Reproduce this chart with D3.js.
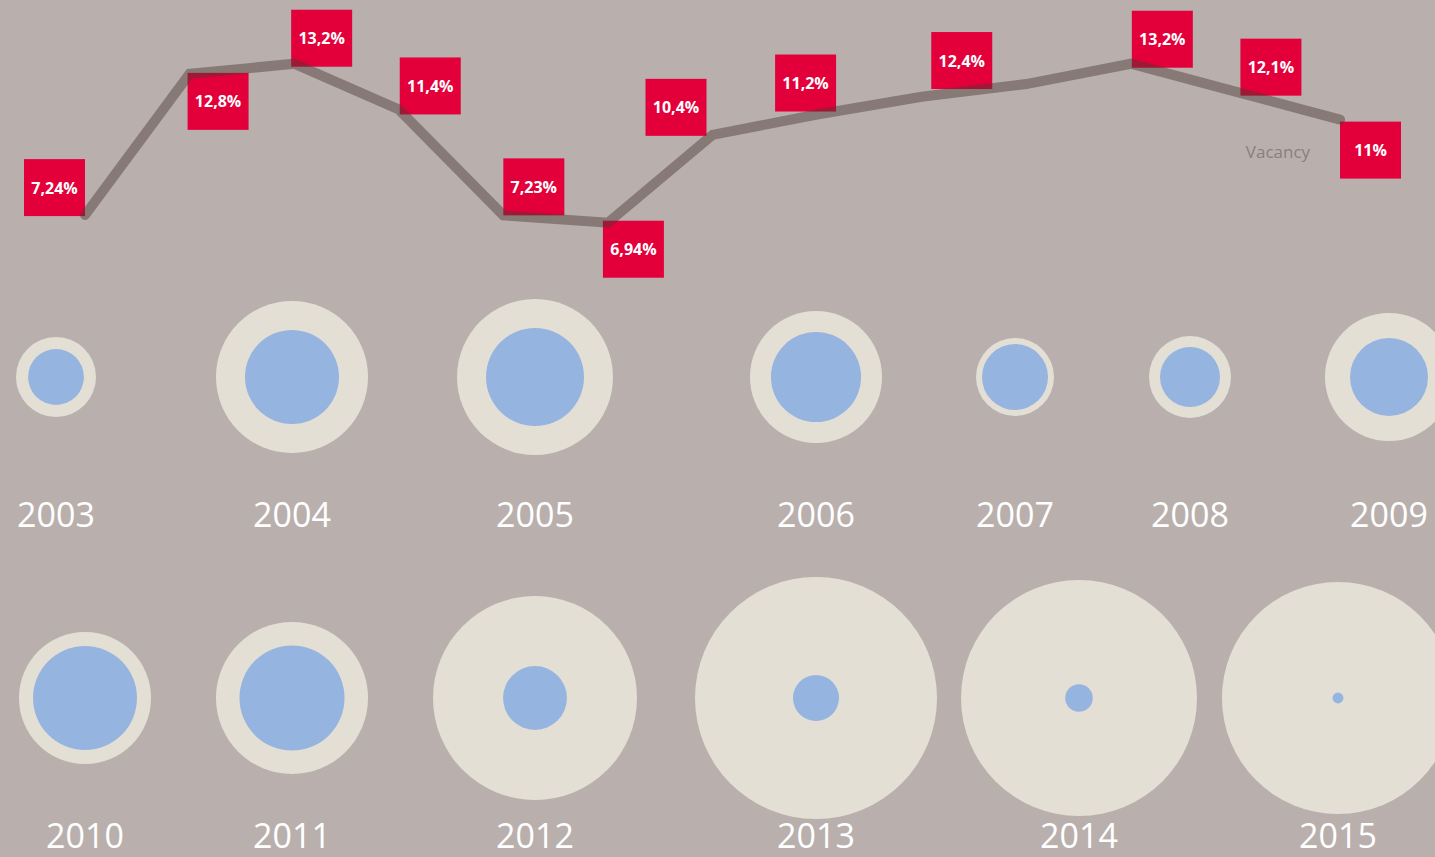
<!DOCTYPE html>
<html>
  <head>
    <meta charset="utf-8" />
    <title>Vacancy and stock 2003-2015</title>
    <script src="https://d3js.org/d3.v7.min.js"></script>
    <style>
      body { margin: 0; background: #b9b0ad; }
      svg { display: block; }
    </style>
  </head>
  <body>
    <svg width="1435" height="857"></svg>

    <script>
      // Data
      const years = [2003, 2004, 2005, 2006, 2007, 2008, 2009, 2010, 2011, 2012, 2013, 2014, 2015];
      const vacancy = [7.24, 12.8, 13.2, 11.4, 7.23, 6.94, 10.4, 11.2, 11.9, 12.4, 13.2, 12.1, 11.0];
      const vacancyLabels = ["7,24%", "12,8%", "13,2%", "11,4%", "7,23%", "6,94%", "10,4%", "11,2%", null, "12,4%", "13,2%", "12,1%", "11%"];
      // outer and inner circle values (area units)
      const outerValues = [160, 578, 608, 436, 152, 168, 410, 436, 578, 1040, 1464, 1392, 1346];
      const innerValues = [78, 221, 240, 203, 109, 90, 152, 270, 276, 102, 53, 19, 3];

      // Layout: label box offsets from the line point, circle columns
      const boxOffsets = [[-61, -56], [-2, -1], [-3, -54], [1, -52], [0, -57], [-5, -2], [-67, -56], [-42, -60], null, [-95, -52], [1, -53], [5, -53], [0, 2]];
      const rowOf = [0, 0, 0, 0, 0, 0, 0, 1, 1, 1, 1, 1, 1];
      const columnX = [56, 292, 535, 816, 1015, 1190, 1389, 85, 292, 535, 816, 1079, 1338];

      const width = 1435;
      const height = 857;
      const svg = d3.select("svg");

      svg.append("rect").attr("width", width).attr("height", height).attr("fill", "#b9b0ad");

      // ---- line chart ----
      const x = d3.scalePoint().domain(years).range([85, 1340]);
      const y = d3.scaleLinear().domain([0, 15]).range([399, 18]);

      const pts = years.map((yr, i) => ({ year: yr, v: vacancy[i], label: vacancyLabels[i], off: boxOffsets[i] }));

      const boxW = 61, boxH = 57;
      const labelled = pts.filter(d => d.label);

      const boxes = svg.append("g")
        .selectAll("g")
        .data(labelled)
        .enter()
        .append("g")
        .attr("transform", d => `translate(${x(d.year) + d.off[0]},${y(d.v) + d.off[1]})`);

      boxes.append("rect")
        .attr("width", boxW)
        .attr("height", boxH)
        .attr("fill", "#e3003a");

      boxes.append("text")
        .attr("x", boxW / 2)
        .attr("y", boxH / 2 + 6)
        .attr("text-anchor", "middle")
        .style("font-family", "'Open Sans', sans-serif")
        .style("font-weight", "700")
        .style("font-size", "16px")
        .style("fill", "#ffffff")
        .text(d => d.label);

      const line = d3.line().x(d => x(d.year)).y(d => y(d.v));

      svg.append("path")
        .datum(pts)
        .attr("d", line)
        .attr("fill", "none")
        .attr("stroke", "#4a3833")
        .attr("stroke-opacity", 0.45)
        .attr("stroke-width", 10)
        .attr("stroke-linecap", "round")
        .attr("stroke-linejoin", "miter");

      svg.append("text")
        .attr("x", 1278)
        .attr("y", 158)
        .attr("text-anchor", "middle")
        .style("font-family", "'Open Sans', sans-serif")
        .style("font-size", "17px")
        .style("fill", "#8a7f7c")
        .text("Vacancy");

      // ---- circles ----
      const r = d3.scaleSqrt().domain([0, d3.max(outerValues)]).range([0, 121]);
      const colScale = d3.scaleOrdinal().domain(years).range(columnX);
      const rowY = d3.scaleOrdinal().domain([0, 1]).range([377, 698]);
      const labelY = d3.scaleOrdinal().domain([0, 1]).range([527, 848]);

      const bubbles = years.map((yr, i) => ({ year: yr, outer: outerValues[i], inner: innerValues[i], row: rowOf[i] }));

      svg.append("g")
        .selectAll("circle")
        .data(bubbles)
        .enter()
        .append("circle")
        .attr("cx", d => colScale(d.year))
        .attr("cy", d => rowY(d.row))
        .attr("r", d => r(d.outer))
        .attr("fill", "#e3dfd5");

      svg.append("g")
        .selectAll("circle")
        .data(bubbles)
        .enter()
        .append("circle")
        .attr("cx", d => colScale(d.year))
        .attr("cy", d => rowY(d.row))
        .attr("r", d => r(d.inner))
        .attr("fill", "#96b4e0");

      svg.append("g")
        .selectAll("text")
        .data(bubbles)
        .enter()
        .append("text")
        .attr("x", d => colScale(d.year))
        .attr("y", d => labelY(d.row))
        .attr("text-anchor", "middle")
        .style("font-family", "'Open Sans', sans-serif")
        .style("font-size", "34px")
        .style("fill", "#ffffff")
        .text(d => d.year);
    </script>
  </body>
</html>
